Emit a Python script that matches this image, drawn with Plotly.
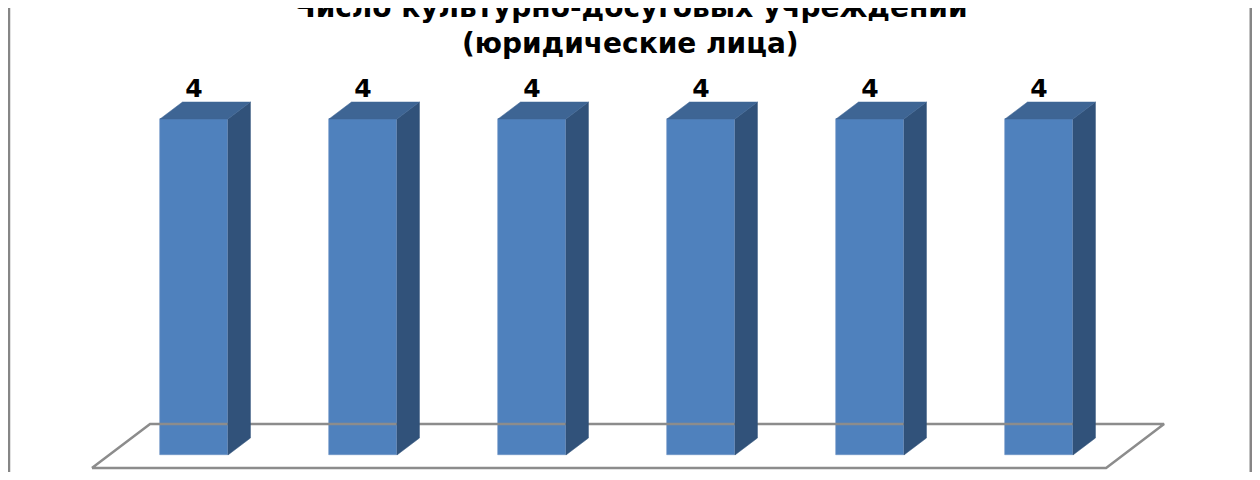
# -*- coding: utf-8 -*-
"""
Число культурно-досуговых учреждений (юридические лица)
объёмная гистограмма в стиле Excel: лицевая грань + боковая + верхняя
"""

import plotly.graph_objects as go

# ==========================================
# 1. Данные
# ==========================================
title_line1 = "Число культурно-досуговых учреждений"
title_line2 = "(юридические лица)"
values = [4, 4, 4, 4, 4, 4]
positions = list(range(len(values)))

# --- цвета ---
front = "#4F81BD"
top = "#3E6594"
side = "#31527A"
edge = "#6E94C6"
floor_col = "#8C8C8C"

# --- геометрия «3D» (в единицах осей) ---
bar_w = 0.402     # ширина лицевой грани
dep_x = 0.133     # сдвиг глубины по x
dep_y = 0.202     # сдвиг глубины по y
floor_front = -0.155
floor_back = 0.369

# ==========================================
# 2. Построение
# ==========================================
fig = go.Figure()

# пол (основание)
n = len(values)
fl_x = [-0.5 - 0.104, n - 0.5 - 0.103, n - 0.5 + 0.24, -0.5 + 0.24, -0.5 - 0.104]
fl_y = [floor_front, floor_front, floor_back, floor_back, floor_front]
fig.add_trace(go.Scatter(
    x=fl_x, y=fl_y, mode="lines",
    line=dict(color=floor_col, width=2.5),
    hoverinfo="skip", showlegend=False
))

# боковые и верхние грани
for x, v in zip(positions, values):
    xl = x - bar_w / 2
    xr = x + bar_w / 2
    fig.add_trace(go.Scatter(
        x=[xr, xr + dep_x, xr + dep_x, xr, xr],
        y=[0, dep_y, v + dep_y, v, 0],
        fill="toself", fillcolor=side, mode="lines",
        line=dict(color=side, width=0.5),
        hoverinfo="skip", showlegend=False
    ))
    fig.add_trace(go.Scatter(
        x=[xl, xl + dep_x, xr + dep_x, xr, xl],
        y=[v, v + dep_y, v + dep_y, v, v],
        fill="toself", fillcolor=top, mode="lines",
        line=dict(color=top, width=0.5),
        hoverinfo="skip", showlegend=False
    ))

# лицевые грани
fig.add_trace(go.Bar(
    x=positions, y=values, width=bar_w,
    marker=dict(color=front, line=dict(color=edge, width=0.6)),
    hovertemplate="%{y}<extra></extra>",
    showlegend=False
))

# подписи значений
fig.add_trace(go.Scatter(
    x=positions, y=[v + dep_y + 0.13 for v in values],
    mode="text", text=[str(v) for v in values],
    textposition="middle center",
    textfont=dict(family="DejaVu Sans", size=25, color="#000000", weight="bold"),
    hoverinfo="skip", showlegend=False
))

# ==========================================
# 3. Оформление
# ==========================================
# у страницы отступ 8px со всех сторон, поэтому холст 1244x464
fig.update_layout(
    width=1244, height=464,
    margin=dict(l=0, r=0, t=0, b=0),
    paper_bgcolor="white", plot_bgcolor="white",
    bargap=0,
    xaxis=dict(range=[-1.1006, 6.2603], visible=False, fixedrange=True),
    yaxis=dict(range=[-0.2024, 5.321], visible=False, fixedrange=True),
)

fig.add_annotation(
    text=f"<b>{title_line1}</b><br><b>{title_line2}</b>",
    xref="paper", yref="paper", x=0.5008, y=0.9623,
    xanchor="center", yanchor="middle",
    showarrow=False,
    font=dict(family="DejaVu Sans", size=28, color="#000000"),
)

# рамка области диаграммы
fig.add_shape(type="line", xref="paper", yref="paper",
              x0=0.0008, x1=0.0008, y0=-0.05, y1=1.05,
              line=dict(color="#868686", width=2.5))
fig.add_shape(type="line", xref="paper", yref="paper",
              x0=0.9990, x1=0.9990, y0=-0.05, y1=1.05,
              line=dict(color="#868686", width=2.5))

fig.write_html("out.html")
